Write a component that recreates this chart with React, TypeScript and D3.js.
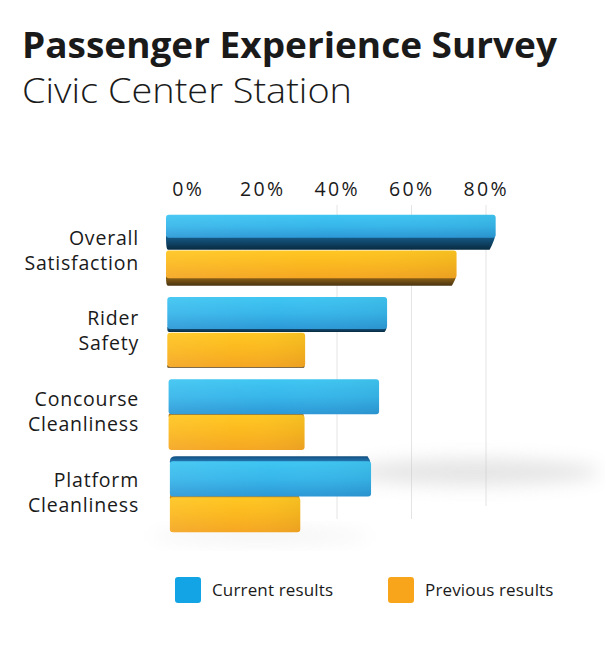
import React from "react";
import * as d3 from "d3";

const categories = ["Overall Satisfaction", "Rider Safety", "Concourse Cleanliness", "Platform Cleanliness"];
const categoryLines = [["Overall", "Satisfaction"], ["Rider", "Safety"], ["Concourse", "Cleanliness"], ["Platform", "Cleanliness"]];
const currentValues = [88.5, 59, 56.5, 54];
const previousValues = [78, 37, 36.5, 35];
const tickValues = [0, 20, 40, 60, 80];
const gridValues = [40, 60, 80];
const seriesNames = ["Current results", "Previous results"];

const W = 605, H = 672;
const FONT = "'Open Sans', 'Noto Sans', sans-serif";

export default function App() {
  // back wall axis (labels, gridlines)
  const xBack = d3.scaleLinear().domain([0, 80]).range([187, 485]);
  // front face scale for bars
  const xFront = d3.scaleLinear().domain([0, 100]).range([0, 372.5]);
  const yGroup = d3.scaleBand<string>().domain(categories).range([214, 533]).paddingInner(0.12).paddingOuter(0);
  const ySub = d3.scaleBand<string>().domain(["cur", "prev"]).range([0, yGroup.bandwidth()]).padding(0.02);
  const eyeY = 395;

  type Bar = { key: string; y0: number; h: number; x0: number; w: number; color: "blue" | "orange"; side: number };
  const bars: Bar[] = [];
  categories.forEach((c, i) => {
    const gy = yGroup(c)!;
    const x0 = 166 + i * 1.3;
    [["cur", currentValues[i], "blue"], ["prev", previousValues[i], "orange"]].forEach(([k, v, col]) => {
      const y0 = gy + ySub(k as string)!;
      const h = ySub.bandwidth();
      const d = eyeY - (y0 + h / 2);
      const side = d > 0 ? 0.00046 * d * d : -Math.min(7, -d * 0.06);
      bars.push({ key: c + k, y0, h, x0, w: xFront(v as number), color: col as any, side });
    });
  });
  const order = [...bars].sort((a, b) => Math.abs(b.side) - Math.abs(a.side));

  const renderBar = (b: Bar) => {
    const s = Math.abs(b.side);
    const under = b.side > 0;
    const faceY = b.y0;
    const faceH = under ? b.h - s : b.h;
    const xr = b.x0 + b.w;
    const shrink = Math.min(6, s * 0.5 + 1);
    let sidePath: string;
    if (under) {
      const y1 = b.y0 + faceH, y2 = b.y0 + b.h;
      sidePath = `M${b.x0},${y1 - 2} L${xr - 1},${y1 - 2} Q${xr},${y1} ${xr - shrink},${y2} L${b.x0 + 2},${y2} Q${b.x0},${y2} ${b.x0},${y1} Z`;
    } else {
      const y1 = b.y0, y2 = b.y0 - s;
      sidePath = `M${b.x0},${y1 + 2} L${xr - 1},${y1 + 2} Q${xr},${y1} ${xr - shrink},${y2} L${b.x0 + 6},${y2} Q${b.x0},${y2} ${b.x0},${y1} Z`;
    }
    const dark = b.color === "blue" ? (under ? "url(#blueSide)" : "url(#blueTop)") : (under ? "url(#orangeSide)" : "url(#orangeTop)");
    const face = b.color === "blue" ? "url(#blueFace)" : "url(#orangeFace)";
    return (
      <g key={b.key}>
        {s > 0.8 && <path d={sidePath} fill={dark} />}
        <rect x={b.x0} y={faceY} width={b.w} height={faceH} rx={3} ry={3} fill={face} />
        <rect x={b.x0} y={faceY} width={b.w} height={faceH} rx={3} ry={3} fill="url(#gloss)" />
      </g>
    );
  };

  return (
    <svg width={W} height={H} style={{ display: "block", position: "absolute", left: 0, top: 0 }} fontFamily={FONT}>
      <defs>
        <linearGradient id="blueFace" x1="0" y1="0" x2="0" y2="1">
          <stop offset="0" stopColor="#3fc6f2" />
          <stop offset="0.5" stopColor="#37b6ea" />
          <stop offset="1" stopColor="#2c98d6" />
        </linearGradient>
        <linearGradient id="orangeFace" x1="0" y1="0" x2="0" y2="1">
          <stop offset="0" stopColor="#ffc722" />
          <stop offset="0.5" stopColor="#fbb81f" />
          <stop offset="1" stopColor="#f5a623" />
        </linearGradient>
        <linearGradient id="blueSide" x1="0" y1="0" x2="0" y2="1">
          <stop offset="0" stopColor="#17608f" />
          <stop offset="1" stopColor="#082a40" />
        </linearGradient>
        <linearGradient id="blueTop" x1="0" y1="1" x2="0" y2="0">
          <stop offset="0" stopColor="#2a86c4" />
          <stop offset="1" stopColor="#124f80" />
        </linearGradient>
        <linearGradient id="orangeSide" x1="0" y1="0" x2="0" y2="1">
          <stop offset="0" stopColor="#9a6a16" />
          <stop offset="1" stopColor="#4a3410" />
        </linearGradient>
        <linearGradient id="orangeTop" x1="0" y1="1" x2="0" y2="0">
          <stop offset="0" stopColor="#d69018" />
          <stop offset="1" stopColor="#9a6a16" />
        </linearGradient>
        <linearGradient id="gloss" x1="0" y1="0" x2="1" y2="0">
          <stop offset="0" stopColor="#ffffff" stopOpacity="0.06" />
          <stop offset="0.5" stopColor="#ffffff" stopOpacity="0" />
          <stop offset="1" stopColor="#000000" stopOpacity="0.04" />
        </linearGradient>
        <filter id="blur" x="-50%" y="-100%" width="200%" height="300%">
          <feGaussianBlur stdDeviation="9" />
        </filter>
      </defs>
      <rect width={W} height={H} fill="#ffffff" />

      <text x={22} y={58} fontSize={35} fontWeight={700} fill="#1a1a1a" textLength={535} lengthAdjust="spacingAndGlyphs">Passenger Experience Survey</text>
      <text x={22} y={103} fontSize={35} fontWeight={300} fill="#1a1a1a" textLength={330} lengthAdjust="spacingAndGlyphs">Civic Center Station</text>

      {tickValues.map(t => (
        <text key={t} x={xBack(t) + 1.2} y={196} fontSize={19.5} letterSpacing={2.4} textAnchor="middle" fill="#1a1a1a">{t}%</text>
      ))}

      {gridValues.map(g => (
        <line key={g} x1={xBack(g) + 1} x2={xBack(g) + 1} y1={205} y2={g === 80 ? 506 : 519} stroke="#e4e4e4" strokeWidth={1} />
      ))}

      <ellipse cx={475} cy={472} rx={125} ry={13} fill="#c4c4c4" opacity={0.45} filter="url(#blur)" />
      <ellipse cx={260} cy={536} rx={110} ry={5} fill="#d6d6d6" opacity={0.4} filter="url(#blur)" />

      {order.map(renderBar)}

      {categoryLines.map((lines, i) => {
        const gy = yGroup(categories[i])!;
        const mid = gy + yGroup.bandwidth() / 2;
        return (
          <text key={i} fontSize={19.5} letterSpacing={0.8} textAnchor="end" fill="#1a1a1a">
            {lines.map((l, j) => (
              <tspan key={j} x={139} y={mid - 5.5 + j * 25 - i * 1.5}>{l}</tspan>
            ))}
          </text>
        );
      })}

      {seriesNames.map((n, i) => (
        <g key={n} transform={`translate(${175 + i * 213},577)`}>
          <rect width={26} height={26} rx={3} fill={i === 0 ? "#12a4e4" : "#f8a51c"} />
          <text x={37} y={19} fontSize={17} letterSpacing={0.15} fill="#1a1a1a">{n}</text>
        </g>
      ))}
    </svg>
  );
}
